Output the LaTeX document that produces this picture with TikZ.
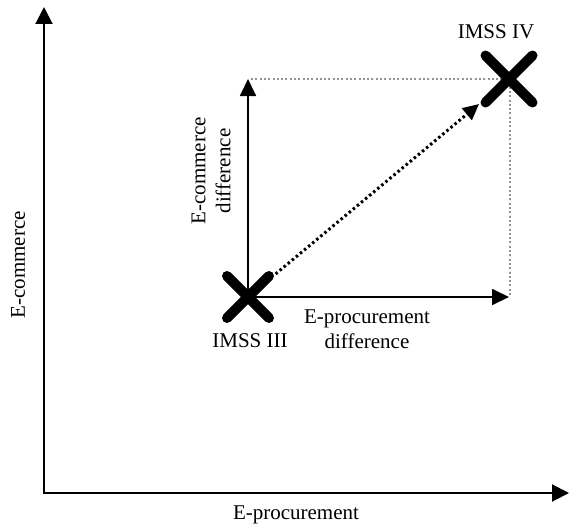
\documentclass[tikz,border=0pt]{standalone}
\usepackage{fontspec}
\setmainfont{Liberation Serif}
\usetikzlibrary{arrows.meta,shapes.misc}
\begin{document}
\begin{tikzpicture}[x=1pt,y=-1pt,
  lbl/.style={font=\fontsize{21}{25}\selectfont, align=center, inner sep=0pt},
  axis/.style={line width=2pt, {Triangle[length=17pt,width=17pt]}-{Triangle[length=17pt,width=17pt]}},
  diff/.style={line width=1.8pt, -{Triangle[length=17pt,width=16pt]}},
  guide/.style={line width=2pt, gray!85, dash pattern=on 2pt off 2.3pt},
  move/.style={line width=3pt, dash pattern=on 2.5pt off 2.8pt, -{Triangle[length=16pt,width=15pt]}},
  crossmark/.style={cross out, draw, line width=10pt, line cap=round, inner sep=0pt}
]
\useasboundingbox (0,0) rectangle (569,527);
\coordinate (O) at (44,493);
\coordinate (ytop) at (44,7);
\coordinate (xend) at (569,493);
\coordinate (p3) at (248,297);
\coordinate (p4) at (509,79);
\coordinate (dx) at (509,297);
\coordinate (dy) at (248,79);
\coordinate (gx) at (510,297);
\coordinate (gc) at (510,79);
\coordinate (gy) at (251,79);
% axes
\draw[axis] (ytop) -- (O) -- (xend);
% guides
\draw[guide] (gy) -- (gc) -- (gx);
% differences
\draw[diff] (p3) -- (dx);
\draw[diff] (p3) -- (dy);
% movement
\draw[move, shorten <=36pt, shorten >=39pt] (p3) -- (p4);
% markers
\node[crossmark, minimum size=32pt] (m3) at (p3) {};
\node[crossmark, minimum size=37pt] (m4) at (p4) {};
% labels
\node[lbl] (l3) at (250,341) {IMSS III};
\node[lbl] (l4) at (496,32) {IMSS IV};
\node[lbl] (lx) at (367,329) {E-procurement\\difference};
\node[lbl, rotate=90] (ly) at (211,171) {E-commerce\\difference};
\node[lbl] (ax) at (296,515) {E-procurement};
\node[lbl, rotate=90] (ay) at (18,265) {E-commerce};
\end{tikzpicture}
\end{document}
